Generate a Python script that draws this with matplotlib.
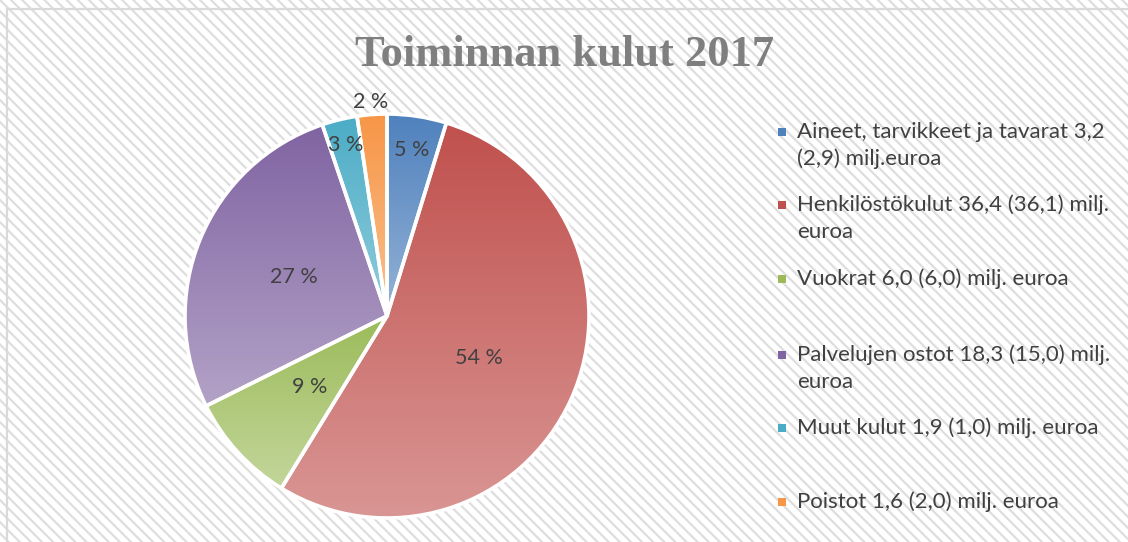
import numpy as np
import matplotlib
matplotlib.use("Agg")
import matplotlib.pyplot as plt
from matplotlib.patches import Rectangle
from matplotlib.colors import LinearSegmentedColormap

# data (milj. euroa, 2017)
categories = [
    "Aineet, tarvikkeet ja tavarat 3,2\n(2,9) milj.euroa",
    "Henkilöstökulut 36,4 (36,1) milj.\neuroa",
    "Vuokrat 6,0 (6,0) milj. euroa",
    "Palvelujen ostot 18,3 (15,0) milj.\neuroa",
    "Muut kulut 1,9 (1,0) milj. euroa",
    "Poistot 1,6 (2,0) milj. euroa",
]
values = [3.2, 36.4, 6.0, 18.3, 1.9, 1.6]
title = "Toiminnan kulut 2017"

# dark (top) / light (bottom) gradient colours per slice
dark = ["#4F81BD", "#C0504D", "#9BBB59", "#8064A2", "#4BACC6", "#F79646"]
light = ["#95B3D7", "#D99694", "#C3D69B", "#B3A2C7", "#92CDDC", "#FAC090"]
label_dist = [0.83, 0.5, 0.52, 0.5, 0.87, 1.06]

W, H = 1128, 542
plt.rcParams["hatch.linewidth"] = 1.6
fig = plt.figure(figsize=(W / 100, H / 100), dpi=100, facecolor="white")

def px(x, y):
    return x / W, 1 - y / H

# striped background + border (top/left visible)
bg = Rectangle((0, 0), 1, 1, transform=fig.transFigure, facecolor="white",
               edgecolor="#DEDEDE", linewidth=0, hatch="\\\\\\", zorder=-10)
fig.patches.append(bg)
x0, y0 = px(7, 9)
border = Rectangle((x0, -0.1), 1.2, y0 + 0.1, transform=fig.transFigure,
                   facecolor="none", edgecolor="#D9D9D9", linewidth=1.6, zorder=-9)
fig.patches.append(border)

font = ["Lato", "DejaVu Sans"]
txt_color = "#404040"

# pie
cx, cy, r = 387, 316, 202
ax = fig.add_axes([(cx - r) / W, (H - cy - r) / H, 2 * r / W, 2 * r / H])
ax.set_axis_off()
ax.patch.set_alpha(0)
wedges, _ = ax.pie(values, startangle=90, counterclock=False, radius=1,
                   wedgeprops=dict(edgecolor="white", linewidth=2.6))

grad = np.linspace(0, 1, 256).reshape(-1, 1)
for w, d, l in zip(wedges, dark, light):
    bb = w.get_path().get_extents()
    cmap = LinearSegmentedColormap.from_list("g", [l, d])
    im = ax.imshow(grad, cmap=cmap, origin="lower", aspect="auto",
                   extent=[bb.x0, bb.x1, bb.y0, bb.y1], zorder=1)
    im.set_clip_path(w)
    w.set_facecolor("none")
    w.set_zorder(2)
ax.set_xlim(-1.0, 1.0)
ax.set_ylim(-1.0, 1.0)
ax.set_aspect("equal")

total = sum(values)
start = 90.0
for v, dist in zip(values, label_dist):
    span = v / total * 360
    mid = np.deg2rad(start - span / 2)
    start -= span
    ax.text(dist * np.cos(mid), dist * np.sin(mid), f"{round(v / total * 100)} %",
            ha="center", va="center", fontsize=15.5, color=txt_color,
            family=font, zorder=3, clip_on=False)

# title
fig.text(*px(565, 55), title, ha="center", va="center", fontsize=32,
         fontweight="bold", family=["Liberation Serif", "DejaVu Serif"],
         color="#7F7F7F")

# legend
leg_y = [132, 205, 279, 355, 428, 502]
for lab, y, d, l in zip(categories, leg_y, dark, light):
    mx, my = px(778, y + 4)
    fig.patches.append(Rectangle((mx, my), 8 / W, 8 / H, transform=fig.transFigure,
                                 facecolor=d, edgecolor="none", zorder=3))
    for j, line in enumerate(lab.split("\n")):
        fig.text(*px(797, y + 27 * j), line, ha="left", va="center",
                 fontsize=16, color=txt_color, family=font)

fig.savefig("out.png", dpi=100, facecolor="white")
